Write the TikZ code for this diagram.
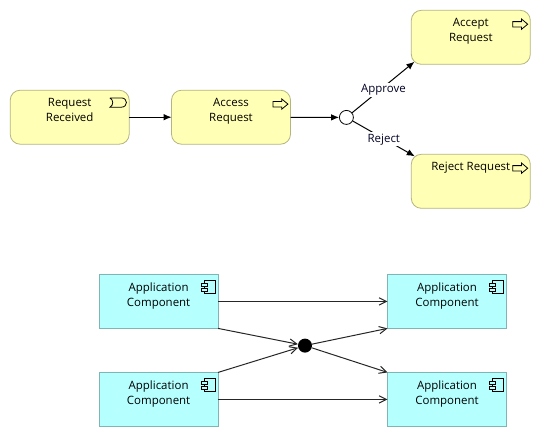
\documentclass[tikz,border=0pt]{standalone}
\usepackage{fontspec}
\setmainfont{Open Sans}
\usetikzlibrary{arrows.meta}

\newcommand{\boxlabel}[1]{\parbox[c][40.5pt][t]{89.25pt}{\centering\vspace{6pt}#1}}

\tikzset{
  element/.style={draw, rounded corners=7.5pt, inner sep=0pt, outer sep=0pt, line width=0.6pt,
    font=\fontsize{8.6}{11.25}\selectfont, fill=bizfill, draw=bizline},
  component/.style={element, sharp corners, fill=appfill, draw=appline},
  solidflow/.style={-{Latex[length=6pt,width=5pt]}, line width=0.75pt},
  openflow/.style={-{Straight Barb[length=5.5pt,width=5.5pt]}, line width=0.75pt, draw=black!85},
  edgelabel/.style={fill=white, inner sep=1pt, text height=6.5pt, text depth=2pt,
    font=\fontsize{8.6}{11.25}\selectfont, text=black!85!blue},
  actionicon/.pic={
    \draw[line width=0.6pt, fill=bizfill] (-17.5,11.3) -- (-8.8,11.3) -- (-8.8,8.7) -- (-2.6,13.9)
      -- (-8.8,19) -- (-8.8,16.7) -- (-17.5,16.7) -- cycle;
  },
  eventicon/.pic={
    \draw[line width=0.6pt] (-19.3,7.7) -- (-8,7.7) .. controls (-1,7.7) and (-1,17) .. (-8,17)
      -- (-19.3,17) .. controls (-15.5,15) and (-15.5,9.7) .. (-19.3,7.7);
  },
  componenticon/.pic={
    \draw[line width=0.6pt] (-14,6.4) rectangle (-3,19);
    \draw[line width=0.6pt, fill=appfill] (-17,8.7) rectangle (-11,11.7);
    \draw[line width=0.6pt, fill=appfill] (-17,14) rectangle (-11,17);
  }
}
\definecolor{bizfill}{HTML}{FFFFB5}
\definecolor{bizline}{HTML}{B5B57F}
\definecolor{appfill}{HTML}{B5FFFF}
\definecolor{appline}{HTML}{7FB5B5}

\begin{document}
\begin{tikzpicture}[x=0.75pt, y=-0.75pt]
  \useasboundingbox (0,0) rectangle (541,437);

  \node[element] (received) at (69.7,117.2) {\boxlabel{Request\\Received}};
  \node[element] (access) at (231,117.2) {\boxlabel{Access\\Request}};
  \node[element] (accept) at (470.8,37.3) {\boxlabel{Accept\\Request}};
  \node[element] (reject) at (470.8,181.3) {\boxlabel{Reject Request}};
  \node[circle, draw, fill=white, line width=0.6pt, minimum size=10.5pt, inner sep=0pt] (decision) at (346.4,117.4) {};

  \node[component] (source) at (158.6,301.4) {\boxlabel{Application\\Component}};
  \node[component] (feeder) at (158.6,399.4) {\boxlabel{Application\\Component}};
  \node[component] (target) at (447,301.4) {\boxlabel{Application\\Component}};
  \node[component] (sink) at (447,399.4) {\boxlabel{Application\\Component}};
  \node[circle, fill=black, minimum size=10.5pt, inner sep=0pt] (merge) at (305,345.6) {};

  \pic at (received.north east) {eventicon};
  \pic at (access.north east) {actionicon};
  \pic at (accept.north east) {actionicon};
  \pic at (reject.north east) {actionicon};
  \pic at (source.north east) {componenticon};
  \pic at (feeder.north east) {componenticon};
  \pic at (target.north east) {componenticon};
  \pic at (sink.north east) {componenticon};

  \draw[solidflow] (received) -- (access);
  \draw[solidflow] (access) -- (decision);
  \draw[solidflow, shorten >=-3pt] (decision) -- node[edgelabel, pos=0.53, yshift=-2pt] (approve) {Approve} (accept.south west);
  \draw[solidflow, shorten >=-3pt] (decision) -- node[edgelabel, pos=0.53, yshift=-0.5pt] (rejected) {Reject} (reject.north west);

  \draw[openflow] (source) -- (target);
  \draw[openflow] (feeder) -- (sink);
  \draw[openflow] (source.south east) -- (merge);
  \draw[openflow] (feeder.north east) -- (merge);
  \draw[openflow] (merge) -- (target.south west);
  \draw[openflow] (merge) -- (sink.north west);
\end{tikzpicture}
\end{document}
